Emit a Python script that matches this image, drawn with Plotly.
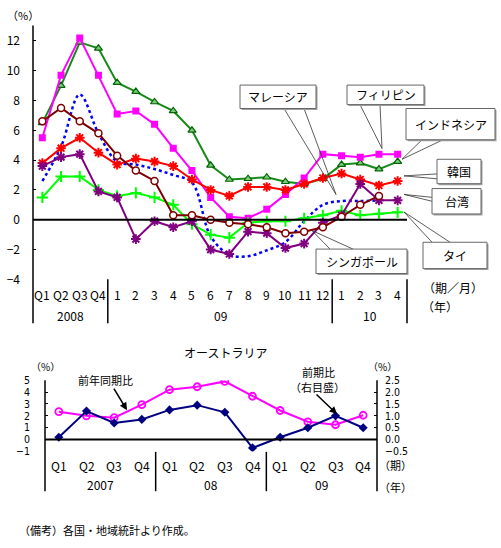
import plotly.graph_objects as go

W, H = 501, 548
FONT = "Noto Sans CJK JP"
NUMFONT = "Liberation Sans Narrow, DejaVu Sans Condensed, Noto Sans CJK JP"

# ---------------- data: top chart ----------------
top_labels = ["Q1", "Q2", "Q3", "Q4", "1", "2", "3", "4", "5", "6", "7", "8", "9", "10", "11", "12", "1", "2", "3", "4"]
top_years = ["2008", "09", "10"]
top_year_spans = [(0, 3), (4, 15), (16, 19)]
y_ticks_top = [-4, -2, 0, 2, 4, 6, 8, 10, 12]

philippines = [5.5, 9.7, 12.2, 9.7, 7.1, 7.3, 6.4, 4.8, 3.3, 1.5, 0.2, 0.1, 0.7, 1.7, 2.8, 4.4, 4.3, 4.2, 4.4, 4.4]
indonesia = [6.5, 9.0, 11.9, 11.5, 9.2, 8.6, 7.9, 7.3, 6.0, 3.65, 2.7, 2.75, 2.85, 2.55, 2.4, 2.75, 3.7, 3.8, 3.4, 3.9]
korea = [3.8, 4.8, 5.5, 4.5, 3.7, 4.1, 3.9, 3.6, 2.7, 2.0, 1.6, 2.2, 2.2, 2.0, 2.4, 2.8, 3.1, 2.7, 2.3, 2.6]
taiwan = [3.6, 4.2, 4.4, 1.9, 1.5, -1.3, -0.1, -0.5, -0.1, -2.0, -2.3, -0.8, -0.9, -1.9, -1.6, -0.2, 0.3, 2.4, 1.3, 1.3]
thailand = [1.5, 2.9, 2.9, 2.0, 1.6, 1.8, 1.5, 1.0, -0.3, -1.0, -1.2, -0.2, -0.1, -0.1, 0.1, 0.3, 0.6, 0.3, 0.4, 0.5]
singapore = [6.6, 7.5, 6.6, 5.8, 4.3, 3.3, 2.6, 0.3, 0.3, 0.0, -0.2, -0.3, -0.5, -0.9, -0.8, -0.5, 0.2, 1.0, 1.6]
malaysia = [2.6, 4.9, 8.4, 5.8, 3.9, 3.7, 3.4, 3.0, 2.5, -1.1, -2.35, -2.45, -2.05, -1.5, -0.1, 1.0, 1.25, 1.25, 1.3]

# ---------------- data: Australia ----------------
aus_labels = ["Q1", "Q2", "Q3", "Q4"] * 3
aus_years = ["2007", "08", "09"]
aus_year_spans = [(0, 3), (4, 7), (8, 11)]
aus_yoy = [2.35, 2.0, 1.85, 2.95, 4.2, 4.45, 4.9, 3.65, 2.45, 1.5, 1.25, 2.05]
aus_qoq = [0.1, 1.2, 0.7, 0.85, 1.25, 1.45, 1.15, -0.35, 0.1, 0.5, 1.0, 0.5]
y_ticks_left = [-1, 0, 1, 2, 3, 4, 5]
y_ticks_right = [-0.5, 0.0, 0.5, 1.0, 1.5, 2.0, 2.5]


def px(x):
    return x / W


def py(y):
    return 1 - y / H


def minus(s):
    return s.replace("-", "\u2212")


fig = go.Figure()
xi = list(range(len(top_labels)))

fig.add_trace(go.Scatter(x=xi[:len(malaysia)], y=malaysia, mode="lines", line=dict(color="#0000FF", width=2.5, dash="dot", shape="spline"), name="マレーシア", xaxis="x", yaxis="y"))
fig.add_trace(go.Scatter(x=xi, y=indonesia, mode="lines+markers", line=dict(color="#178A17", width=2),
                         marker=dict(symbol="triangle-up", size=7, color="#7CCB7C", line=dict(color="#006400", width=1.2)), name="インドネシア", xaxis="x", yaxis="y"))
fig.add_trace(go.Scatter(x=xi, y=philippines, mode="lines+markers", line=dict(color="#FF00FF", width=2),
                         marker=dict(symbol="square", size=7, color="#FF00FF"), name="フィリピン", xaxis="x", yaxis="y"))
fig.add_trace(go.Scatter(x=xi, y=korea, mode="lines+markers", line=dict(color="#FF0000", width=2),
                         marker=dict(symbol="asterisk-open", size=8, color="#FF0000", line=dict(color="#FF0000", width=2)), name="韓国", xaxis="x", yaxis="y"))
fig.add_trace(go.Scatter(x=xi, y=thailand, mode="lines+markers", line=dict(color="#00FF00", width=2),
                         marker=dict(symbol="cross-thin-open", size=8, color="#00FF00", line=dict(color="#00E000", width=2)), name="タイ", xaxis="x", yaxis="y"))
fig.add_trace(go.Scatter(x=xi, y=taiwan, mode="lines+markers", line=dict(color="#800080", width=2),
                         marker=dict(symbol="asterisk-open", size=8, color="#800080", line=dict(color="#800080", width=2)), name="台湾", xaxis="x", yaxis="y"))
fig.add_trace(go.Scatter(x=xi[:len(singapore)], y=singapore, mode="lines+markers", line=dict(color="#800000", width=2),
                         marker=dict(symbol="circle", size=7, color="white", line=dict(color="#800000", width=1.5)), name="シンガポール", xaxis="x", yaxis="y"))

ai = list(range(len(aus_labels)))
fig.add_trace(go.Scatter(x=ai, y=aus_yoy, mode="lines+markers", line=dict(color="#FF00FF", width=2),
                         marker=dict(symbol="circle-open", size=7, color="#FF00FF", line=dict(width=1.8)), name="前年同期比", xaxis="x2", yaxis="y2"))
fig.add_trace(go.Scatter(x=ai, y=aus_qoq, mode="lines+markers", line=dict(color="#000080", width=2),
                         marker=dict(symbol="diamond", size=7, color="#000080"), name="前期比", xaxis="x2", yaxis="y3"))

TOP_X0, TOP_X1, TOP_Y0, TOP_Y1 = 33, 407, 20, 280
BOT_X0, BOT_X1, BOT_Y0, BOT_Y1 = 45, 377, 383.3, 456.3

tickfont = dict(family=FONT, size=12, color="black")
fig.update_layout(
    width=W, height=H, autosize=False, margin=dict(l=0, r=0, t=0, b=0),
    paper_bgcolor="white", plot_bgcolor="rgba(0,0,0,0)", showlegend=False,
    font=dict(family=FONT, size=11, color="black"),
    xaxis=dict(domain=[px(TOP_X0), px(TOP_X1)], range=[-0.5, 19.5], showticklabels=False, showgrid=False, zeroline=False, showline=False, fixedrange=True),
    yaxis=dict(domain=[py(TOP_Y1), py(TOP_Y0)], range=[-4, 13.03], tickvals=y_ticks_top,
               ticktext=[minus(str(v)) for v in y_ticks_top], ticks="inside", ticklen=3, tickcolor="black",
               ticklabelstandoff=12, tickfont=tickfont, showgrid=False, zeroline=False, showline=False, fixedrange=True),
    xaxis2=dict(domain=[px(BOT_X0), px(BOT_X1)], range=[-0.5, 11.5], showticklabels=False, showgrid=False, zeroline=False, showline=False, fixedrange=True, anchor="y2"),
    yaxis2=dict(domain=[py(BOT_Y1), py(BOT_Y0)], range=[-1, 5], tickvals=y_ticks_left, ticktext=[minus(str(v)) for v in y_ticks_left],
                ticks="inside", ticklen=3, tickcolor="black", ticklabelstandoff=14, tickfont=dict(family=NUMFONT, size=10.5, color="black"),
                showgrid=False, zeroline=False, showline=False, fixedrange=True, anchor="x2"),
    yaxis3=dict(domain=[py(BOT_Y1), py(BOT_Y0)], range=[-0.5, 2.5], overlaying="y2", side="right", anchor="x2",
                tickvals=y_ticks_right, ticktext=[minus(f"{v:.1f}") for v in y_ticks_right],
                ticks="inside", ticklen=3, tickcolor="black", ticklabelstandoff=7, tickfont=dict(family=NUMFONT, size=10.5, color="black"),
                showgrid=False, zeroline=False, showline=False, fixedrange=True),
)

shapes = []
ann = []


def vline(x, y0, y1, w=1.5):
    shapes.append(dict(type="line", xref="paper", yref="paper", x0=px(x), x1=px(x), y0=py(y0), y1=py(y1), line=dict(color="black", width=w)))


# top chart frame lines
vline(TOP_X0, TOP_Y0, 325)
step = (TOP_X1 - TOP_X0) / len(top_labels)
for a, b in top_year_spans[1:]:
    vline(TOP_X0 + a * step, TOP_Y1, 325)
vline(TOP_X1, TOP_Y1, 325)
shapes.append(dict(type="line", xref="paper", yref="y", x0=px(TOP_X0), x1=px(TOP_X1), y0=0, y1=0, line=dict(color="black", width=2)))

# bottom chart frame lines
vline(BOT_X0, BOT_Y0, 497)
vline(BOT_X1, BOT_Y0, 497)
bstep = (BOT_X1 - BOT_X0) / len(aus_labels)
for a, b in aus_year_spans[1:]:
    vline(BOT_X0 + a * bstep, 456.7, 497)
shapes.append(dict(type="line", xref="paper", yref="y2", x0=px(BOT_X0), x1=px(BOT_X1), y0=0, y1=0, line=dict(color="black", width=2)))

# category labels
for i, t in enumerate(top_labels):
    ann.append(dict(x=i, xref="x", y=py(296), yref="paper", text=t, showarrow=False, font=dict(size=12), xanchor="center", yanchor="middle"))
for t, (a, b) in zip(top_years, top_year_spans):
    ann.append(dict(x=(a + b) / 2, xref="x", y=py(317), yref="paper", text=t, showarrow=False, font=dict(size=12), xanchor="center", yanchor="middle"))
for i, t in enumerate(aus_labels):
    ann.append(dict(x=i, xref="x2", y=py(471), yref="paper", text=t, showarrow=False, font=dict(size=12), xanchor="center", yanchor="middle"))
for t, (a, b) in zip(aus_years, aus_year_spans):
    ann.append(dict(x=(a + b) / 2, xref="x2", y=py(490), yref="paper", text=t, showarrow=False, font=dict(size=12), xanchor="center", yanchor="middle"))


def label(x, y, text, size=11, anchor="center"):
    ann.append(dict(x=px(x), y=py(y), xref="paper", yref="paper", text=text, showarrow=False, font=dict(size=size), xanchor=anchor, yanchor="middle"))


label(23, 9, "（%）", 11)
label(453, 288, "（期／月）", 12)
label(440, 308, "（年）", 12)
label(225, 355, "オーストラリア", 12)
label(45, 369, "（%）", 10)
label(382, 369, "（%）", 10)
label(395, 470, "（期）", 11)
label(395, 493, "（年）", 11)
label(105, 383, "前年同期比", 11)
label(318, 375, "前期比", 11)
label(317, 390, "（右目盛）", 11)
label(17, 537, "（備考）各国・地域統計より作成。", 11, anchor="left")

# arrows
for tail, tip in [((113, 391), (127, 414)), ((315, 397), (337, 418))]:
    ann.append(dict(x=px(tip[0]), y=py(tip[1]), xref="paper", yref="paper", ax=tail[0] - tip[0], ay=tail[1] - tip[1],
                    axref="pixel", ayref="pixel", text="", showarrow=True, arrowhead=2, arrowsize=1, arrowwidth=1.5, arrowcolor="black"))

# callout boxes: (text, x0, y0, x1, y1, wedge base a, wedge base b, tip)
callouts = [
    ("マレーシア", 240, 81, 316, 105, (284, 105), (304, 105), (336, 193)),
    ("フィリピン", 347, 81, 424, 101, (360, 101), (380, 101), (382, 146)),
    ("インドネシア", 406, 105, 495, 137, (422, 137), (443, 137), (402, 157)),
    ("韓国", 437, 157, 481, 182, (437, 172), (437, 177), (404, 174)),
    ("台湾", 432, 187, 481, 213, (432, 196), (432, 200), (404, 193)),
    ("タイ", 423, 242, 487, 269, (432, 242), (450, 242), (404, 211)),
    ("シンガポール", 316, 249, 407, 274, (330, 249), (353, 249), (312, 230)),
]
for text, x0, y0, x1, y1, a, b, tip in callouts:
    shapes.append(dict(type="path", xref="paper", yref="paper",
                       path=f"M {px(a[0])},{py(a[1])} L {px(tip[0])},{py(tip[1])} L {px(b[0])},{py(b[1])}",
                       line=dict(color="#333333", width=0.8)))
    shapes.append(dict(type="rect", xref="paper", yref="paper", x0=px(x0 + 1.5), x1=px(x1 + 1.5), y0=py(y0 + 1.5), y1=py(y1 + 1.5),
                       line=dict(width=0), fillcolor="#A0A0A0"))
    shapes.append(dict(type="rect", xref="paper", yref="paper", x0=px(x0), x1=px(x1), y0=py(y0), y1=py(y1),
                       line=dict(color="#666666", width=1), fillcolor="white"))
    label((x0 + x1) / 2, (y0 + y1) / 2, text, 12)

fig.update_layout(shapes=shapes, annotations=ann)
fig.write_html("out.html")
